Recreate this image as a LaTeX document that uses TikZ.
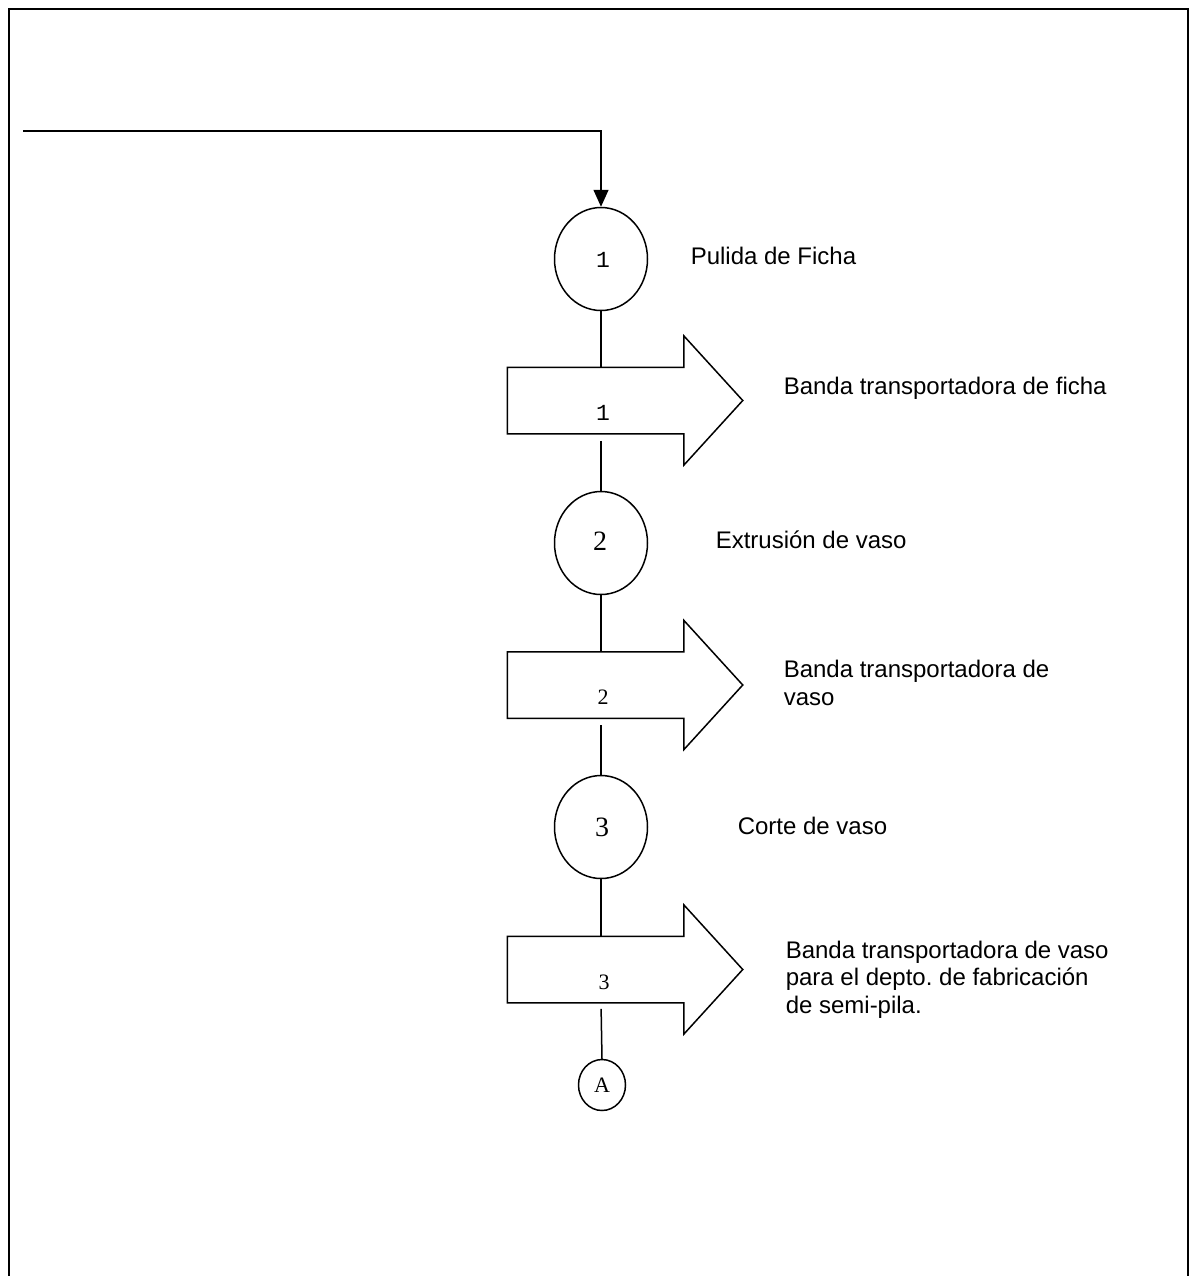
\documentclass[tikz,border=0pt]{standalone}
\usepackage{fontspec}
\setmainfont{Liberation Sans}
\newfontfamily\serifnum{Liberation Serif}
\newfontfamily\mononum{Liberation Mono}
\usetikzlibrary{arrows.meta,shapes.geometric}
\begin{document}
\begin{tikzpicture}[x=0.5pt,y=-0.5pt,line width=0.75pt,
  opnode/.style={ellipse,draw,minimum width=46.5pt,minimum height=51.5pt,inner sep=0pt},
  connode/.style={ellipse,draw,minimum width=23.5pt,minimum height=25.5pt,inner sep=0pt,font=\serifnum\fontsize{11}{12}\selectfont},
  shaft/.style={minimum width=87.5pt,minimum height=32.5pt,inner sep=0pt},
  lbl/.style={font=\fontsize{12}{13.7}\selectfont,anchor=base west,inner sep=0pt,align=left},
  numA/.style={font=\mononum\fontsize{11.5}{12}\selectfont,inner sep=0pt},
  numB/.style={font=\serifnum\fontsize{14}{16}\selectfont,inner sep=0pt},
  numC/.style={font=\serifnum\fontsize{11}{12}\selectfont,inner sep=0pt},
  tip/.style={-{Triangle[width=7.5pt,length=8.5pt]}}]
\useasboundingbox (0,0) rectangle (1193,1276);
% frame
\draw[line width=1pt] (8.5,1276) -- (8.5,8.5) -- (1187.5,8.5) -- (1187.5,1276);

% operations
\node[opnode] (c1) at (601,259) {};
\node[opnode] (c2) at (601,543) {};
\node[opnode] (c3) at (601,827) {};
\node[numA] (n1) at (603,260) {1};
\node[numB] (n2) at (600,541) {2};
\node[numB] (n3) at (602,827) {3};

% transports
\node[shaft] (b1) at (595.5,400.5) {};
\node[shaft] (b2) at (595.5,685) {};
\node[shaft] (b3) at (595.5,969.5) {};
\foreach \b in {b1,b2,b3}{
  \draw (\b.north west) -- (\b.north east) -- ([yshift=15.75pt]\b.north east)
    -- ([xshift=29.5pt]\b.east) -- ([yshift=-15.75pt]\b.south east)
    -- (\b.south east) -- (\b.south west) -- cycle;
}
\node[numA] (m1) at (603,413) {1};
\node[numC] (m2) at (603,697) {2};
\node[numC] (m3) at (604,982) {3};

% connector A
\node[connode] (ca) at (602,1085) {A};

% connectors
\coordinate (start) at (23,131);
\draw[tip] (start) -- (start -| c1) -- (c1.north);
\draw (c1.south) -- (c1.south |- b1.north);
\draw[shorten <=3.5pt] (c1 |- b1.south) -- (c2.north);
\draw (c2.south) -- (c2.south |- b2.north);
\draw[shorten <=3.5pt] (c2 |- b2.south) -- (c3.north);
\draw (c3.south) -- (c3.south |- b3.north);
\draw[shorten <=3pt] (c3 |- b3.south) -- (ca.north);

% labels
\node[lbl] (t1) at (690,264) {Pulida de Ficha};
\node[lbl] (t2) at (783,394) {Banda transportadora de ficha};
\node[lbl] (t3) at (715,548) {Extrusión de vaso};
\node[lbl] (t4) at (783,705) {Banda transportadora de\\vaso};
\node[lbl] (t5) at (737,834) {Corte de vaso};
\node[lbl] (t6) at (785,1013) {Banda transportadora de vaso\\para el depto.\ de fabricación\\de semi-pila.};
\end{tikzpicture}
\end{document}
